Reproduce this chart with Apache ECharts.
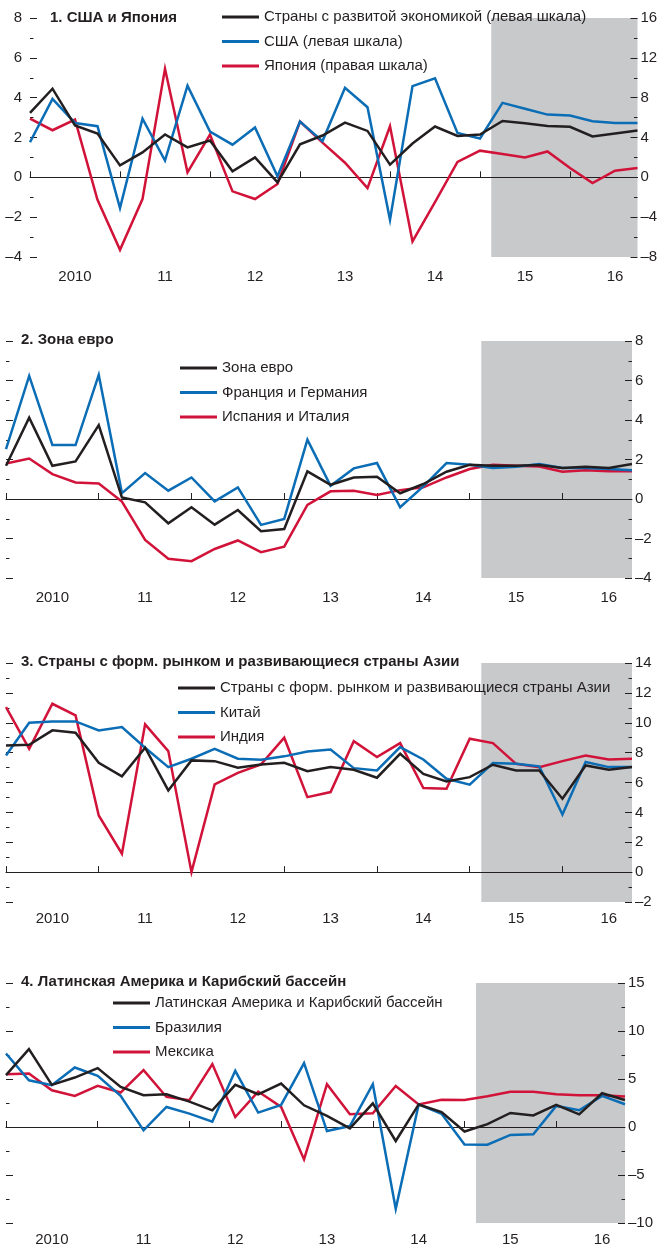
<!DOCTYPE html>
<html>
<head>
<meta charset="utf-8">
<script src="https://cdn.jsdelivr.net/npm/echarts@6/dist/echarts.min.js"></script>
<style>
  html, body { margin: 0; padding: 0; background: #ffffff; }
  #chart { width: 659px; height: 1247px; }
</style>
</head>
<body>
<div id="chart"></div>
<script>
// Quarterly categories 2010Q1 .. 2016Q4
const years = ['2010', '2011', '2012', '2013', '2014', '2015', '2016'];
const quarters = [];
years.forEach(y => ['Q1', 'Q2', 'Q3', 'Q4'].forEach(q => quarters.push(y + q)));
const yearLabels = ['2010', '11', '12', '13', '14', '15', '16'];
// projection period starts here (quarter index)
const projectionStart = 20.5;

// 1. США и Япония
const advanced = [3.24, 4.45, 2.6, 2.2, 0.6, 1.25, 2.15, 1.5, 1.85, 0.3, 1.0, -0.25, 1.66, 2.1,
                  2.75, 2.33, 0.64, 1.7, 2.55, 2.08, 2.15, 2.83, 2.72, 2.58, 2.54, 2.05, 2.2, 2.35];
const usa = [1.76, 3.94, 2.73, 2.57, -1.54, 2.95, 0.84, 4.6, 2.3, 1.64, 2.5, 0.05, 2.8, 1.82,
             4.5, 3.52, -2.13, 4.58, 4.97, 2.23, 1.95, 3.74, 3.44, 3.15, 3.1, 2.82, 2.73, 2.73];
const japan = [5.9, 4.73, 5.8, -2.25, -7.28, -2.18, 10.9, 0.5, 4.3, -1.41, -2.18, -0.67, 5.6, 3.48,
               1.47, -1.08, 5.13, -6.44, -2.5, 1.54, 2.68, 2.35, 2.0, 2.6, 0.94, -0.57, 0.67, 0.94];

// 2. Зона евро
const euroArea = [1.68, 4.12, 1.68, 1.9, 3.74, 0.08, -0.17, -1.23, -0.42, -1.3, -0.56, -1.63, -1.52, 1.4,
                  0.72, 1.09, 1.13, 0.29, 0.76, 1.38, 1.73, 1.68, 1.68, 1.72, 1.57, 1.63, 1.57, 1.77];
const franceGermany = [2.53, 6.23, 2.74, 2.73, 6.28, 0.3, 1.31, 0.42, 1.09, -0.12, 0.59, -1.31, -1.01, 3.0,
                       0.67, 1.55, 1.82, -0.42, 0.64, 1.82, 1.73, 1.57, 1.63, 1.77, 1.57, 1.57, 1.52, 1.46];
const spainItaly = [1.8, 2.05, 1.26, 0.84, 0.79, -0.13, -2.07, -3.03, -3.15, -2.53, -2.1, -2.69, -2.41, -0.3,
                    0.39, 0.42, 0.2, 0.45, 0.59, 1.09, 1.52, 1.73, 1.68, 1.65, 1.38, 1.46, 1.4, 1.4];

// 3. Страны с форм. рынком и развивающиеся страны Азии
const emAsia = [8.48, 8.53, 9.49, 9.33, 7.32, 6.41, 8.33, 5.47, 7.48, 7.43, 6.99, 7.21, 7.32, 6.76,
                7.03, 6.85, 6.32, 7.92, 6.58, 6.07, 6.36, 7.19, 6.81, 6.81, 4.91, 7.14, 6.85, 7.03];
const china = [7.81, 10.0, 10.09, 10.09, 9.49, 9.71, 8.33, 7.03, 7.59, 8.26, 7.59, 7.52, 7.75, 8.08,
               8.21, 6.96, 6.81, 8.37, 7.54, 6.25, 5.85, 7.3, 7.25, 7.08, 3.86, 7.37, 7.03, 7.03];
const india = [11.05, 8.26, 11.27, 10.49, 3.79, 1.23, 9.89, 8.1, 0.0, 5.87, 6.65, 7.21, 9.0, 5.02,
               5.36, 8.77, 7.7, 8.64, 5.63, 5.58, 8.93, 8.64, 7.25, 7.03, 7.43, 7.81, 7.54, 7.59];

// 4. Латинская Америка и Карибский бассейн
const latAm = [5.4, 8.11, 4.39, 5.15, 6.13, 4.18, 3.31, 3.41, 2.65, 1.74, 4.39, 3.41, 4.53, 2.26,
               1.15, -0.14, 2.47, -1.46, 2.35, 1.55, -0.47, 0.3, 1.46, 1.2, 2.3, 1.32, 3.52, 2.82];
const brazil = [7.66, 4.87, 4.35, 6.2, 5.33, 3.24, -0.35, 2.09, 1.39, 0.56, 5.85, 1.5, 2.3, 6.65,
                -0.42, 0.1, 4.46, -8.53, 2.35, 1.38, -1.83, -1.84, -0.83, -0.76, 2.19, 1.74, 3.24, 2.37];
const mexico = [5.5, 5.57, 3.83, 3.24, 4.28, 3.59, 5.92, 3.13, 2.79, 6.55, 1.04, 3.69, 2.09, -3.38,
                4.46, 1.32, 1.43, 4.28, 2.35, 2.84, 2.82, 3.2, 3.68, 3.68, 3.41, 3.31, 3.31, 3.17];

const FONT = "'Liberation Sans Narrow', 'Arial Narrow', 'Liberation Sans', sans-serif";
const INK = '#231f20';
const BLACK = '#231f20';
const BLUE = '#0b6db5';
const RED = '#d1133a';
const SHADE = '#c8c9cb';

const panels = [
  {
    title: '1. США и Япония', titleLeft: 50, titleTop: 10,
    grid: { left: 30, right: 21.5, top: 18, height: 239 }, yearLabelGap: 12,
    leftAxis: { min: -4, max: 8, interval: 2, minorSplit: 2, labels: true },
    rightAxis: { min: -8, max: 16, interval: 4, minorSplit: 2 },
    legendLeft: 222, legendTop: 9,
    series: [
      { name: 'Страны с развитой экономикой (левая шкала)', data: advanced, color: BLACK, axis: 0 },
      { name: 'США (левая шкала)', data: usa, color: BLUE, axis: 0 },
      { name: 'Япония (правая шкала)', data: japan, color: RED, axis: 1 }
    ]
  },
  {
    title: '2. Зона евро', titleLeft: 21, titleTop: 332,
    grid: { left: 6, right: 27, top: 341, height: 237 }, yearLabelGap: 12,
    leftAxis: { min: -4, max: 8, interval: 2, minorSplit: 2, labels: false },
    rightAxis: { min: -4, max: 8, interval: 2, minorSplit: 2 },
    legendLeft: 180, legendTop: 360,
    series: [
      { name: 'Зона евро', data: euroArea, color: BLACK, axis: 1 },
      { name: 'Франция и Германия', data: franceGermany, color: BLUE, axis: 1 },
      { name: 'Испания и Италия', data: spainItaly, color: RED, axis: 1 }
    ]
  },
  {
    title: '3. Страны с форм. рынком и развивающиеся страны Азии', titleLeft: 21, titleTop: 654,
    grid: { left: 6, right: 27, top: 663, height: 239 }, yearLabelGap: 9,
    leftAxis: { min: -2, max: 14, interval: 2, minorSplit: 2, labels: false },
    rightAxis: { min: -2, max: 14, interval: 2, minorSplit: 2 },
    legendLeft: 178, legendTop: 680,
    series: [
      { name: 'Страны с форм. рынком и развивающиеся страны Азии', data: emAsia, color: BLACK, axis: 1 },
      { name: 'Китай', data: china, color: BLUE, axis: 1 },
      { name: 'Индия', data: india, color: RED, axis: 1 }
    ]
  },
  {
    title: '4. Латинская Америка и Карибский бассейн', titleLeft: 21, titleTop: 974,
    grid: { left: 6, right: 34, top: 983, height: 240 }, yearLabelGap: 9,
    leftAxis: { min: -10, max: 15, interval: 5, minorSplit: 2, labels: false },
    rightAxis: { min: -10, max: 15, interval: 5, minorSplit: 2 },
    legendLeft: 113, legendTop: 995,
    series: [
      { name: 'Латинская Америка и Карибский бассейн', data: latAm, color: BLACK, axis: 1 },
      { name: 'Бразилия', data: brazil, color: BLUE, axis: 1 },
      { name: 'Мексика', data: mexico, color: RED, axis: 1 }
    ]
  }
];

const fmt = v => (v < 0 ? '\u2013' + Math.abs(v) : String(v));

const option = {
  animation: false,
  backgroundColor: '#ffffff',
  textStyle: { fontFamily: FONT },
  title: [], grid: [], xAxis: [], yAxis: [], legend: [], series: []
};

panels.forEach((p, k) => {
  option.title.push({
    text: p.title, left: p.titleLeft, top: p.titleTop, padding: 0,
    textStyle: { fontFamily: FONT, fontSize: 15, fontWeight: 'bold', color: INK }
  });
  option.grid.push(Object.assign({ containLabel: false, outerBoundsMode: 'none' }, p.grid));

  // visible quarterly axis: year ticks and year labels
  option.xAxis.push({
    type: 'category', gridIndex: k, data: quarters, boundaryGap: false,
    axisLine: { show: true, lineStyle: { color: INK, width: 1 } },
    axisTick: { show: true, inside: true, length: 6, interval: 3, lineStyle: { color: INK, width: 1 } },
    axisLabel: {
      interval: i => i % 4 === 2,
      formatter: (v, i) => yearLabels[Math.floor(i / 4)],
      fontFamily: FONT, fontSize: 15, color: INK, margin: p.yearLabelGap
    },
    splitLine: { show: false }
  });
  // hidden numeric axis used for the projection shading
  option.xAxis.push({
    type: 'value', gridIndex: k, min: 0, max: quarters.length - 1, show: false
  });

  const yBase = (a, pos, showLabels) => ({
    type: 'value', gridIndex: k, position: pos, min: a.min, max: a.max, interval: a.interval,
    axisLine: { show: false },
    axisTick: { show: true, inside: true, length: 7, lineStyle: { color: INK, width: 1 } },
    minorTick: { show: true, splitNumber: a.minorSplit, length: 3.5, lineStyle: { color: INK, width: 1 } },
    axisLabel: {
      show: showLabels, formatter: fmt, fontFamily: FONT, fontSize: 15, color: INK,
      margin: pos === 'left' ? 8 : 3
    },
    splitLine: { show: false }
  });
  option.yAxis.push(yBase(p.leftAxis, 'left', p.leftAxis.labels));
  option.yAxis.push(yBase(p.rightAxis, 'right', true));

  option.legend.push({
    orient: 'vertical', left: p.legendLeft, top: p.legendTop, padding: 0,
    icon: 'rect', itemWidth: 37, itemHeight: 3, itemGap: 8.5,
    selectedMode: false,
    data: p.series.map(s => s.name),
    textStyle: { fontFamily: FONT, fontSize: 15, color: INK, lineHeight: 16 }
  });

  // projection shading
  option.series.push({
    type: 'line', xAxisIndex: 2 * k + 1, yAxisIndex: 2 * k + 1, data: [], z: 0, silent: true,
    markArea: {
      silent: true, z: 0,
      itemStyle: { color: SHADE, opacity: 1 },
      data: [[{ xAxis: projectionStart }, { xAxis: quarters.length - 1 }]]
    }
  });
  // zero line
  option.series.push({
    type: 'line', xAxisIndex: 2 * k + 1, yAxisIndex: 2 * k + (p.series[0].axis), data: [], z: 1, silent: true,
    markLine: {
      silent: true, symbol: ['none', 'none'], z: 1,
      label: { show: false },
      lineStyle: { color: INK, width: 1, type: 'solid' },
      emphasis: { disabled: true },
      data: [{ yAxis: 0 }]
    }
  });

  p.series.forEach((s, j) => {
    option.series.push({
      name: s.name, type: 'line', xAxisIndex: 2 * k, yAxisIndex: 2 * k + s.axis,
      data: s.data, showSymbol: false, symbol: 'none', smooth: false,
      z: 3 + (2 - j),
      color: s.color,
      lineStyle: { color: s.color, width: 2.5, join: 'miter' },
      emphasis: { disabled: true }
    });
  });
});

const chart = echarts.init(document.getElementById('chart'), null, { renderer: 'canvas' });
chart.setOption(option);
</script>
</body>
</html>
